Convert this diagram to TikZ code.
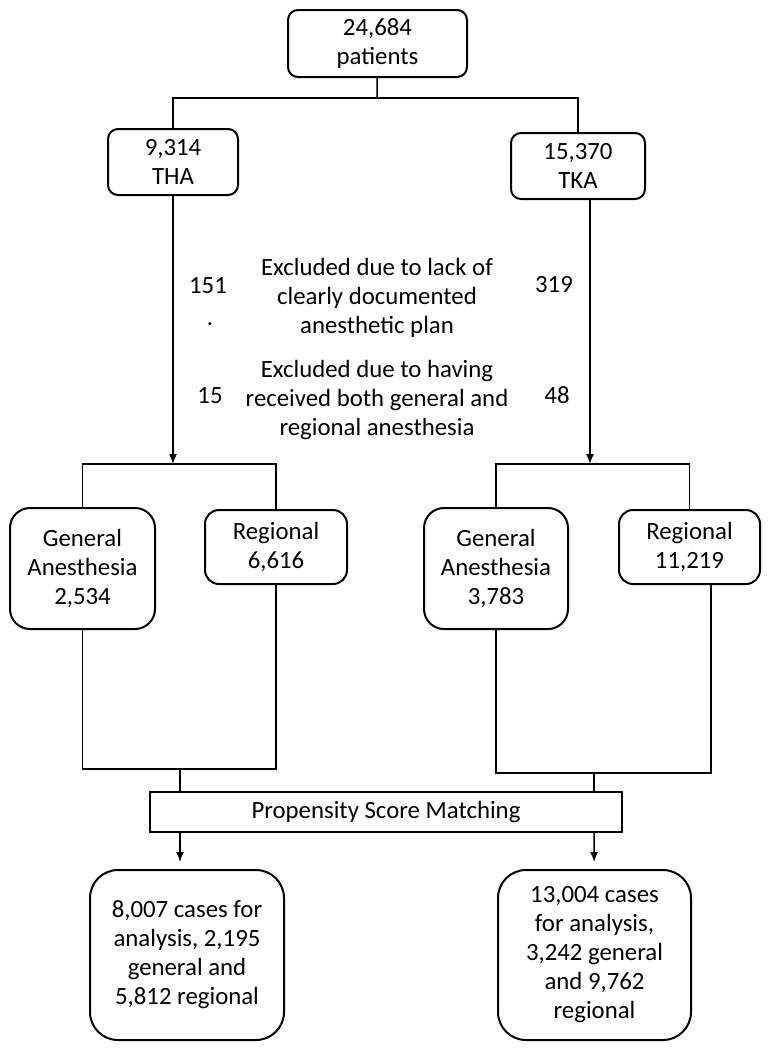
\documentclass[tikz,border=0pt]{standalone}
\usepackage{fontspec}
\setmainfont{Carlito}
\usetikzlibrary{arrows.meta,positioning}

\begin{document}
\begin{tikzpicture}[x=0.5pt, y=-0.5pt, >={Latex[length=5pt,width=4pt]}, line width=0.75pt,
    every node/.style={font=\fontsize{12.4}{14.5}\selectfont, align=center, inner sep=0pt},
    box/.style={draw, line width=1pt, rounded corners=5pt},
    numlbl/.style={anchor=base}]
    \useasboundingbox (0,0) rectangle (770,1050);

    % cohort and procedure split
    \node[box, minimum width=89.5pt, minimum height=33.5pt] (total) at (377.5,43.5) {24,684\\patients};
    \node[box, minimum width=65pt, minimum height=33pt] (tha) at (173,162) {9,314\\THA};
    \node[box, minimum width=67pt, minimum height=33pt] (tka) at (578,166) {15,370\\TKA};

    % exclusions
    \node (excl1) at (377,298) {Excluded due to lack of\\clearly documented\\anesthetic plan};
    \node (excl2) at (377,400) {Excluded due to having\\received both general and\\regional anesthesia};
    \node[numlbl] (thaa) at (208,293) {151};
    \node[numlbl] (thadot) at (210,325) {.};
    \node[numlbl] (thab) at (210,403) {15};
    \node[numlbl] (tkaa) at (554,292) {319};
    \node[numlbl] (tkab) at (557,403) {48};

    % anesthesia groups
    \node[box, rounded corners=10pt, minimum width=72.5pt, minimum height=60.5pt] (lgen) at (82.5,568.5) {General\\Anesthesia\\2,534};
    \node[box, rounded corners=7pt, minimum width=71pt, minimum height=37pt] (lreg) at (276,547) {Regional\\6,616};
    \node[box, rounded corners=10pt, minimum width=72pt, minimum height=60.5pt] (rgen) at (496,568.5) {General\\Anesthesia\\3,783};
    \node[box, rounded corners=7pt, minimum width=70.5pt, minimum height=37pt] (rreg) at (689.5,547) {Regional\\11,219};

    \node[box, rounded corners=0pt, minimum width=236pt, minimum height=20pt] (psm) at (386,812) {Propensity Score Matching};

    \node[box, rounded corners=14pt, minimum width=97pt, minimum height=85pt] (lres) at (187,955) {8,007 cases for\\analysis, 2,195\\general and\\5,812 regional};
    \node[box, rounded corners=14pt, minimum width=96.5pt, minimum height=85pt] (rres) at (594.5,955) {13,004 cases\\for analysis,\\3,242 general\\and 9,762\\regional};

    % connectors
    \coordinate (split) at (377,98);
    \coordinate (lsplit) at (173,464);
    \coordinate (rsplit) at (590,464);
    \coordinate (ljoin) at (180,769);
    \coordinate (rjoin) at (594,773);

    \draw (total) -- (split);
    \draw (tha) |- (split) -| (tka);
    \draw[->] (tha) -- (lsplit);
    \draw[->] (rsplit |- tka.south) -- (rsplit);
    \draw (lgen) |- (lsplit) -| (lreg);
    \draw (rgen) |- (rsplit) -| (rreg);
    \draw (lgen) |- (ljoin) -| (lreg);
    \draw (rgen) |- (rjoin) -| ([xshift=10.75pt]rreg.south);
    \draw (ljoin) -- (ljoin |- psm.north);
    \draw (rjoin) -- (rjoin |- psm.north);
    \draw[->, shorten >=3.5pt] (ljoin |- psm.south) -- (ljoin |- lres.north);
    \draw[->, shorten >=3.5pt] (rjoin |- psm.south) -- (rres);
\end{tikzpicture}
\end{document}
